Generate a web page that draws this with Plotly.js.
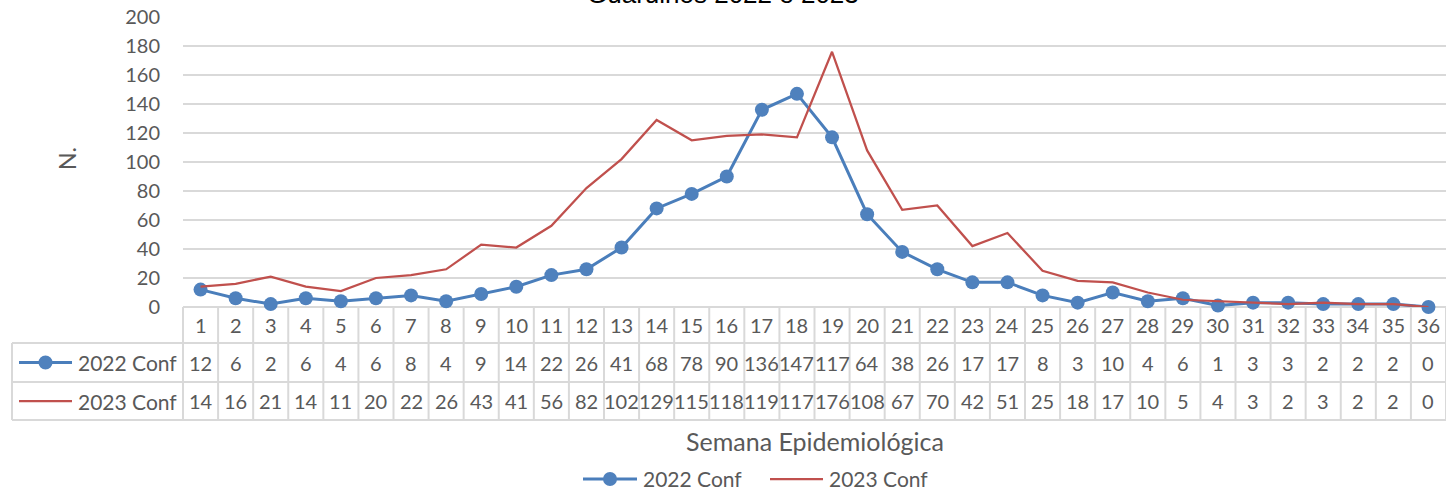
<!DOCTYPE html>
<html>
<head>
<meta charset="utf-8">
<script src="https://cdn.plot.ly/plotly-3.0.1.min.js"></script>
<style>html,body{margin:0;padding:0;background:#fff;}#chart{width:1446px;height:490px;}</style>
</head>
<body>
<div id="chart"></div>
<script>
const titleText = "Guarulhos 2022 e 2023";
const xTitle = "Semana Epidemiológica";
const yTitle = "N.";
const weeks = ["1","2","3","4","5","6","7","8","9","10","11","12","13","14","15","16","17","18","19","20","21","22","23","24","25","26","27","28","29","30","31","32","33","34","35","36"];
const seriesNames = ["2022 Conf", "2023 Conf"];
const conf2022 = [12,6,2,6,4,6,8,4,9,14,22,26,41,68,78,90,136,147,117,64,38,26,17,17,8,3,10,4,6,1,3,3,2,2,2,0];
const conf2023 = [14,16,21,14,11,20,22,26,43,41,56,82,102,129,115,118,119,117,176,108,67,70,42,51,25,18,17,10,5,4,3,2,3,2,2,0];

const W = 1446, H = 490;
const L = 183, T = 17, B = 307;            // plot area pixels
const PW = W - L, PH = B - T;
const px2x = p => (p - L) / PW;             // pixel -> paper x
const py2y = p => (B - p) / PH;             // pixel -> paper y

const FONT = "Lato, 'Open Sans', sans-serif";
const TXT = "#595959";
const GRID = "#D9D9D9";
const BLUE = "#4F81BD", BLUEL = "#4A7EBB", RED = "#C0504D";

const xs = weeks.map((w, i) => i + 1);

const traces = [
  {x: xs, y: conf2022, name: seriesNames[0], type: "scatter", mode: "lines+markers",
   line: {color: BLUEL, width: 3}, marker: {color: BLUE, size: 14}, cliponaxis: false},
  {x: xs, y: conf2023, name: seriesNames[1], type: "scatter", mode: "lines",
   line: {color: RED, width: 2.25}, cliponaxis: false}
];

// table geometry (pixels)
const rowLines = [307, 343, 382, 420];
const rowCenters = [325, 362.5, 401];
const legendLeft = 12;

const shapes = [];
const annotations = [];
const lineStyle = {color: GRID, width: 2};
// horizontal lines
shapes.push({type: "line", xref: "paper", yref: "paper", x0: 0, x1: 1, y0: py2y(rowLines[0]), y1: py2y(rowLines[0]), line: lineStyle, layer: "below"});
for (let k = 1; k < rowLines.length; k++) {
  shapes.push({type: "line", xref: "paper", yref: "paper", x0: px2x(legendLeft), x1: 1, y0: py2y(rowLines[k]), y1: py2y(rowLines[k]), line: lineStyle});
}
// vertical lines
shapes.push({type: "line", xref: "paper", yref: "paper", x0: px2x(legendLeft), x1: px2x(legendLeft), y0: py2y(rowLines[1]), y1: py2y(rowLines[3]), line: lineStyle});
for (let k = 0; k <= weeks.length; k++) {
  const xp = k / weeks.length;
  shapes.push({type: "line", xref: "paper", yref: "paper", x0: xp, x1: xp, y0: py2y(rowLines[0]), y1: py2y(rowLines[3]), line: lineStyle});
}

// legend key helper (line with optional marker + label)
function legendKey(x0, x1, yc, color, width, marker, label, font) {
  shapes.push({type: "line", xref: "paper", yref: "paper", x0: px2x(x0), x1: px2x(x1), y0: py2y(yc), y1: py2y(yc), line: {color: color, width: width}});
  if (marker) {
    const cx = (x0 + x1) / 2;
    shapes.push({type: "circle", xref: "paper", yref: "paper", x0: px2x(cx - 7), x1: px2x(cx + 7), y0: py2y(yc + 7), y1: py2y(yc - 7), fillcolor: BLUE, line: {color: BLUE, width: 0}});
  }
  annotations.push({x: px2x(x1 + 4), xref: "paper", y: py2y(yc), yref: "paper", text: label, showarrow: false, font: font, xanchor: "left", yanchor: "middle"});
}

const cellFont = {family: FONT, size: 20, color: TXT};
const labelFont = {family: FONT, size: 21, color: TXT};
// table legend column
legendKey(19, 72, rowCenters[1], BLUEL, 3, true, seriesNames[0], labelFont);
legendKey(19, 72, rowCenters[2], RED, 2.25, false, seriesNames[1], labelFont);
// bottom legend
legendKey(583, 637, 479, BLUEL, 3, true, seriesNames[0], labelFont);
legendKey(770, 823, 479, RED, 2.25, false, seriesNames[1], labelFont);

weeks.forEach((w, i) => {
  annotations.push({x: xs[i], xref: "x", y: py2y(rowCenters[0]), yref: "paper", text: w, showarrow: false, font: cellFont, xanchor: "center", yanchor: "middle"});
  annotations.push({x: xs[i], xref: "x", y: py2y(rowCenters[1]), yref: "paper", text: String(conf2022[i]), showarrow: false, font: cellFont, xanchor: "center", yanchor: "middle"});
  annotations.push({x: xs[i], xref: "x", y: py2y(rowCenters[2]), yref: "paper", text: String(conf2023[i]), showarrow: false, font: cellFont, xanchor: "center", yanchor: "middle"});
});
// axis titles
annotations.push({x: 0.5, xref: "paper", y: py2y(441), yref: "paper", text: xTitle, showarrow: false, font: {family: FONT, size: 25, color: TXT}, xanchor: "center", yanchor: "middle"});
annotations.push({x: px2x(67), xref: "paper", y: py2y(159), yref: "paper", text: yTitle, showarrow: false, textangle: -90, font: {family: FONT, size: 23, color: TXT}, xanchor: "center", yanchor: "middle"});
// chart title (clipped at top in the reference)
annotations.push({x: (723 - L) / PW, xref: "paper", y: py2y(11), yref: "paper", text: titleText, showarrow: false, font: {family: "'Liberation Sans', Arial, sans-serif", size: 26, color: "#000"}, xanchor: "center", yanchor: "bottom"});

const layout = {
  width: W, height: H,
  margin: {l: L, r: 0, t: T, b: H - B, pad: 0, autoexpand: false},
  paper_bgcolor: "#fff", plot_bgcolor: "#fff",
  showlegend: false,
  xaxis: {range: [0.5, 36.5], showticklabels: false, showgrid: false, zeroline: false, showline: false, ticks: "", fixedrange: true},
  yaxis: {range: [0, 200], dtick: 20, tick0: 0, showgrid: true, gridcolor: GRID, gridwidth: 1.5, zeroline: false, showline: false, ticks: "",
          tickfont: {family: FONT, size: 20, color: TXT}, ticklabelstandoff: 22, fixedrange: true},
  shapes: shapes,
  annotations: annotations,
  font: {family: FONT, color: TXT}
};

Plotly.newPlot("chart", traces, layout, {displayModeBar: false, staticPlot: true});
</script>
</body>
</html>
